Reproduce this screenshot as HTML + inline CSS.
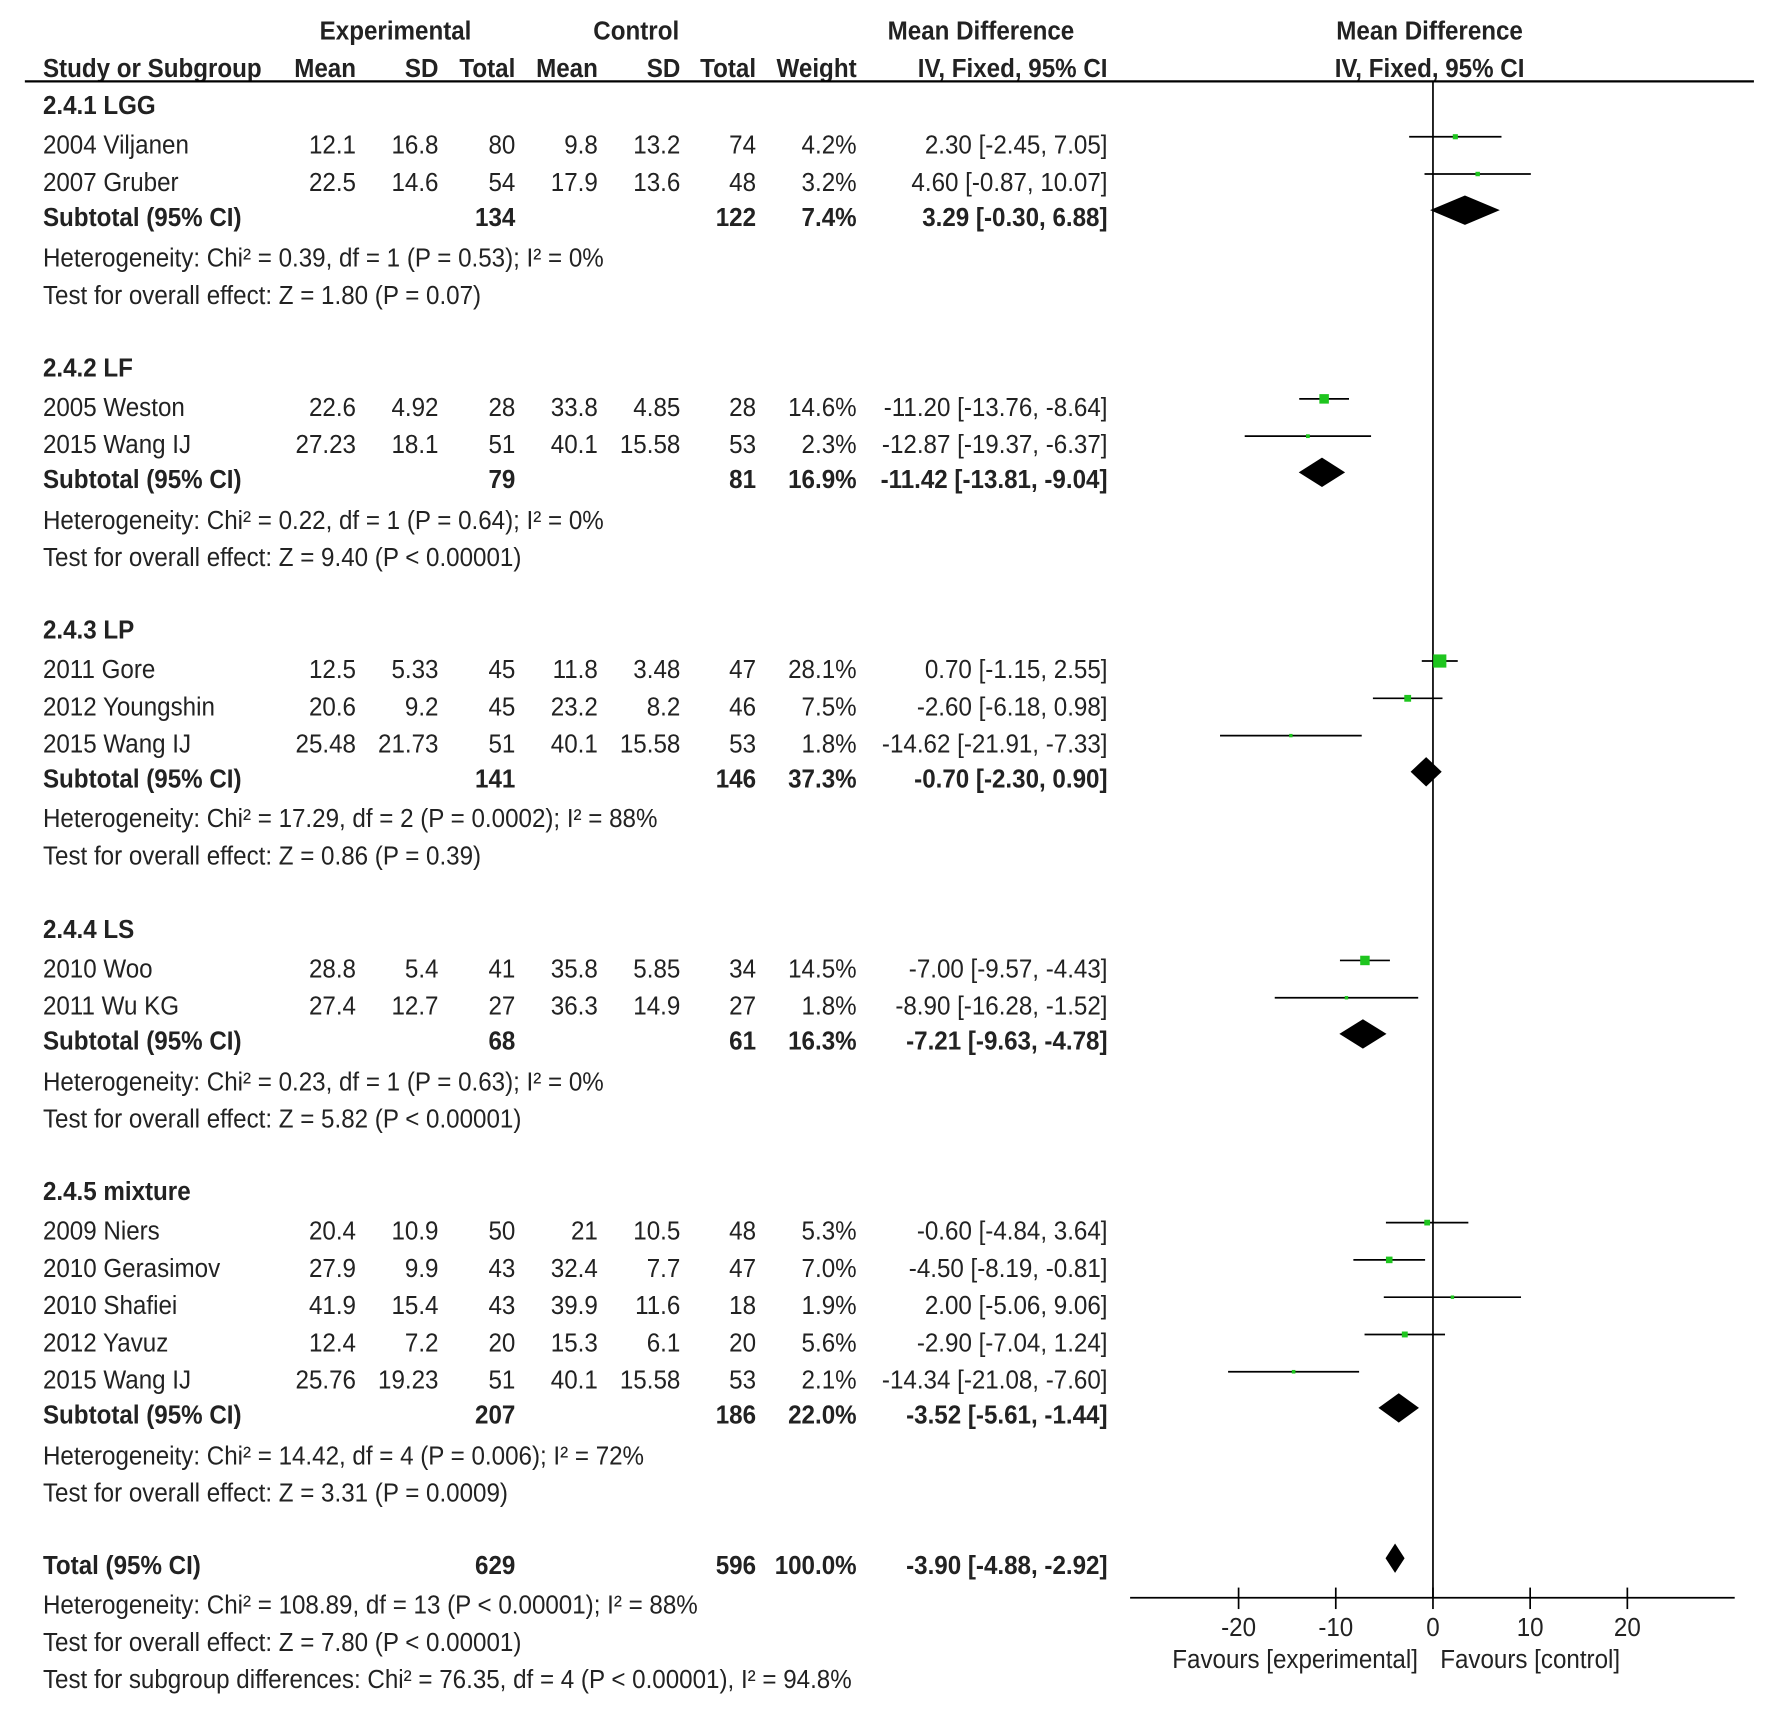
<!DOCTYPE html>
<html><head><meta charset="utf-8"><style>
html,body{margin:0;padding:0;background:#fff;}
svg{display:block;}
text{font-family:"Liberation Sans",sans-serif;font-size:23px;fill:#222;}
.b{font-weight:bold;}
</style></head><body>
<svg id="plot" width="1772" height="1713" viewBox="0 0 1568 1516" preserveAspectRatio="none" xmlns="http://www.w3.org/2000/svg">
<g id="g"></g>
</svg>
<script>
const studyRows=[
 {n:"2004 Viljanen",y:128,v:["12.1","16.8","80","9.8","13.2","74","4.2%","2.30 [-2.45, 7.05]"],md:2.30,lo:-2.45,hi:7.05,w:4.2},
 {n:"2007 Gruber",y:161,v:["22.5","14.6","54","17.9","13.6","48","3.2%","4.60 [-0.87, 10.07]"],md:4.60,lo:-0.87,hi:10.07,w:3.2},
 {n:"2005 Weston",y:360,v:["22.6","4.92","28","33.8","4.85","28","14.6%","-11.20 [-13.76, -8.64]"],md:-11.20,lo:-13.76,hi:-8.64,w:14.6},
 {n:"2015 Wang IJ",y:393,v:["27.23","18.1","51","40.1","15.58","53","2.3%","-12.87 [-19.37, -6.37]"],md:-12.87,lo:-19.37,hi:-6.37,w:2.3},
 {n:"2011 Gore",y:592,v:["12.5","5.33","45","11.8","3.48","47","28.1%","0.70 [-1.15, 2.55]"],md:0.70,lo:-1.15,hi:2.55,w:28.1},
 {n:"2012 Youngshin",y:625,v:["20.6","9.2","45","23.2","8.2","46","7.5%","-2.60 [-6.18, 0.98]"],md:-2.60,lo:-6.18,hi:0.98,w:7.5},
 {n:"2015 Wang IJ",y:658,v:["25.48","21.73","51","40.1","15.58","53","1.8%","-14.62 [-21.91, -7.33]"],md:-14.62,lo:-21.91,hi:-7.33,w:1.8},
 {n:"2010 Woo",y:857,v:["28.8","5.4","41","35.8","5.85","34","14.5%","-7.00 [-9.57, -4.43]"],md:-7.00,lo:-9.57,hi:-4.43,w:14.5},
 {n:"2011 Wu KG",y:890,v:["27.4","12.7","27","36.3","14.9","27","1.8%","-8.90 [-16.28, -1.52]"],md:-8.90,lo:-16.28,hi:-1.52,w:1.8},
 {n:"2009 Niers",y:1089,v:["20.4","10.9","50","21","10.5","48","5.3%","-0.60 [-4.84, 3.64]"],md:-0.60,lo:-4.84,hi:3.64,w:5.3},
 {n:"2010 Gerasimov",y:1122,v:["27.9","9.9","43","32.4","7.7","47","7.0%","-4.50 [-8.19, -0.81]"],md:-4.50,lo:-8.19,hi:-0.81,w:7.0},
 {n:"2010 Shafiei",y:1155,v:["41.9","15.4","43","39.9","11.6","18","1.9%","2.00 [-5.06, 9.06]"],md:2.00,lo:-5.06,hi:9.06,w:1.9},
 {n:"2012 Yavuz",y:1188,v:["12.4","7.2","20","15.3","6.1","20","5.6%","-2.90 [-7.04, 1.24]"],md:-2.90,lo:-7.04,hi:1.24,w:5.6},
 {n:"2015 Wang IJ",y:1221,v:["25.76","19.23","51","40.1","15.58","53","2.1%","-14.34 [-21.08, -7.60]"],md:-14.34,lo:-21.08,hi:-7.60,w:2.1}
];
const subtotalRows=[
 {n:"Subtotal (95% CI)",y:192,v:["134","122","7.4%","3.29 [-0.30, 6.88]"],md:3.29,lo:-0.30,hi:6.88},
 {n:"Subtotal (95% CI)",y:424,v:["79","81","16.9%","-11.42 [-13.81, -9.04]"],md:-11.42,lo:-13.81,hi:-9.04},
 {n:"Subtotal (95% CI)",y:689,v:["141","146","37.3%","-0.70 [-2.30, 0.90]"],md:-0.70,lo:-2.30,hi:0.90},
 {n:"Subtotal (95% CI)",y:921,v:["68","61","16.3%","-7.21 [-9.63, -4.78]"],md:-7.21,lo:-9.63,hi:-4.78},
 {n:"Subtotal (95% CI)",y:1252,v:["207","186","22.0%","-3.52 [-5.61, -1.44]"],md:-3.52,lo:-5.61,hi:-1.44},
 {n:"Total (95% CI)",y:1385,v:["629","596","100.0%","-3.90 [-4.88, -2.92]"],md:-3.90,lo:-4.88,hi:-2.92}
];
const textLines=[
 ["2.4.1 LGG",93,1],["Heterogeneity: Chi² = 0.39, df = 1 (P = 0.53); I² = 0%",228,0],["Test for overall effect: Z = 1.80 (P = 0.07)",261,0],
 ["2.4.2 LF",325,1],["Heterogeneity: Chi² = 0.22, df = 1 (P = 0.64); I² = 0%",460,0],["Test for overall effect: Z = 9.40 (P < 0.00001)",493,0],
 ["2.4.3 LP",557,1],["Heterogeneity: Chi² = 17.29, df = 2 (P = 0.0002); I² = 88%",724,0],["Test for overall effect: Z = 0.86 (P = 0.39)",757,0],
 ["2.4.4 LS",822,1],["Heterogeneity: Chi² = 0.23, df = 1 (P = 0.63); I² = 0%",957,0],["Test for overall effect: Z = 5.82 (P < 0.00001)",990,0],
 ["2.4.5 mixture",1054,1],["Heterogeneity: Chi² = 14.42, df = 4 (P = 0.006); I² = 72%",1288,0],["Test for overall effect: Z = 3.31 (P = 0.0009)",1321,0],
 ["Heterogeneity: Chi² = 108.89, df = 13 (P < 0.00001); I² = 88%",1420,0],["Test for overall effect: Z = 7.80 (P < 0.00001)",1453,0],
 ["Test for subgroup differences: Chi² = 76.35, df = 4 (P < 0.00001), I² = 94.8%",1486,0]
];
const xTicks=[-20,-10,0,10,20];

const NS="http://www.w3.org/2000/svg";
const g=document.getElementById('g');
const SX=0.93;
function el(t,a,txt){const e=document.createElementNS(NS,t);
 if(t==='text'){const x=a.x,y=a.y;delete a.x;delete a.y;a.transform=`translate(${x},${y}) scale(${SX},1)`;}
 for(const k in a)e.setAttribute(k,a[k]);if(txt!==undefined)e.textContent=txt;g.appendChild(e);return e;}
const X0=1268,PX=8.6;
function xs(v){return X0+v*PX;}
const colEnds=[315,388,456,529,602,669,758,980];
const subCols=[456,669,758,980];

let e;
e=el('text',{x:350,y:35,'text-anchor':'middle',class:'b'},'Experimental');

e=el('text',{x:563,y:35,'text-anchor':'middle',class:'b'},'Control');

e=el('text',{x:868,y:35,'text-anchor':'middle',class:'b'},'Mean Difference');

e=el('text',{x:1265,y:35,'text-anchor':'middle',class:'b'},'Mean Difference');

const hdr=[["Study or Subgroup",38,'start'],["Mean",315,'end'],["SD",388,'end'],["Total",456,'end'],["Mean",529,'end'],["SD",602,'end'],["Total",669,'end'],["Weight",758,'end'],["IV, Fixed, 95% CI",980,'end'],["IV, Fixed, 95% CI",1265,'middle']];
hdr.forEach(h=>{const t=el('text',{x:h[1],y:68,'text-anchor':h[2],class:'b'},h[0]);

});
e=el('line',{x1:22,y1:72,x2:1552,y2:72,stroke:'#000','stroke-width':2});


textLines.forEach(l=>{const t=el('text',{x:38,y:l[1]+8,class:l[2]?'b':''},l[0]);

});

e=el('line',{x1:xs(0),y1:72,x2:xs(0),y2:1414,stroke:'#000','stroke-width':1.5});


studyRows.forEach(r=>{
 const t=el('text',{x:38,y:r.y+8},r.n);
 
 
 r.v.forEach((v,i)=>{const c=el('text',{x:colEnds[i],y:r.y+8,'text-anchor':'end'},v);
 
 });
 const my=r.y-7;
 const ln=el('line',{x1:xs(r.lo),y1:my,x2:xs(r.hi),y2:my,stroke:'#000','stroke-width':1.5});
 
 
 const s=Math.max(3,Math.sqrt(r.w)*2.2);
 const sq=el('rect',{x:xs(r.md)-s/2,y:my-s/2,width:s,height:s,fill:'#1ec51e'});
 
 
});
subtotalRows.forEach(r=>{
 const t=el('text',{x:38,y:r.y+8,class:'b'},r.n);
 
 
 r.v.forEach((v,i)=>{const c=el('text',{x:subCols[i],y:r.y+8,'text-anchor':'end',class:'b'},v);
 
 });
 const my=r.y-6;
 const d=el('polygon',{points:`${xs(r.lo)},${my} ${xs(r.md)},${my-13} ${xs(r.hi)},${my} ${xs(r.md)},${my+13}`,fill:'#000'});
 
 
});
e=el('line',{x1:1000,y1:1414,x2:1535,y2:1414,stroke:'#000','stroke-width':1.5});

xTicks.forEach(v=>{
 const tk=el('line',{x1:xs(v),y1:1405,x2:xs(v),y2:1424,stroke:'#000','stroke-width':1.5});
 
 
 const tl=el('text',{x:xs(v),y:1448,'text-anchor':'middle'},String(v));
 
 
});
e=el('text',{x:1146,y:1476,'text-anchor':'middle'},'Favours [experimental]');

e=el('text',{x:1354,y:1476,'text-anchor':'middle'},'Favours [control]');

</script>
</body></html>
